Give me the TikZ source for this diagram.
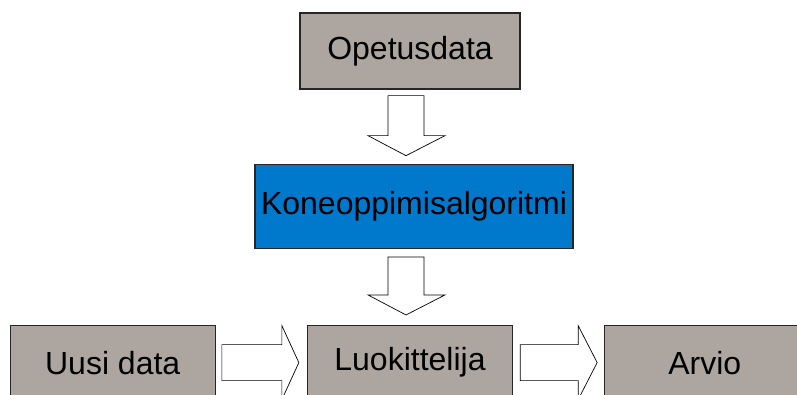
\documentclass[tikz,border=0pt]{standalone}
\usepackage{fontspec}
\setmainfont{Liberation Sans}
\usepackage{tikz}
\usetikzlibrary{calc}
\usetikzlibrary{arrows.meta, positioning}

\definecolor{boxgray}{RGB}{173,166,160}
\definecolor{algoblue}{RGB}{0,120,204}

\begin{document}
\begin{tikzpicture}[x=1pt, y=1pt]

	% Define block styles
	\tikzstyle{box} = [rectangle, draw=black!85, line width=1.3pt, fill=boxgray,
	inner sep=0pt, minimum width=205pt, minimum height=74pt,
	font=\fontsize{32pt}{38pt}\selectfont]
	\tikzstyle{algo} = [box, fill=algoblue, minimum width=318pt, minimum height=84pt]
	\tikzstyle{fat} = [draw=black, fill=white, line width=0.7pt, line join=miter]

	\useasboundingbox (0,0) rectangle (797,394);

	% Nodes
	\node [box, minimum width=220pt, minimum height=76pt] (opetus) at (410,343) {Opetusdata};
	\node [algo, below=74pt of opetus, xshift=4pt] (kone) {Koneoppimisalgoritmi};
	\node [box, below=76pt of kone, xshift=-4pt] (luok) {Luokittelija};
	\node [box, left=91pt of luok] (uusi) {Uusi data};
	\node [box, right=91pt of luok, minimum width=200pt] (arvio) {Arvio};

	% Paths
	\path [fat] ($(opetus.south)+(-22,-6)$) -- ++(36,0) -- ++(0,-40) -- ++(21,0)
		-- ($(kone.north)+(-8,8)$) -- ++(-38,20) -- ++(20,0) -- cycle;
	\path [fat] ($(kone.south)+(-26,-8)$) -- ++(36,0) -- ++(0,-38) -- ++(21,0)
		-- ($(luok.north)+(-4,10)$) -- ++(-38,20) -- ++(20,0) -- cycle;
	\path [fat] ($(uusi.east)+(6,18)$) -- ++(60,0) -- ++(0,19)
		-- ($(luok.west)+(-8,0)$) -- ++(-17,-37) -- ++(0,19) -- ++(-60,0) -- cycle;
	\path [fat] ($(luok.east)+(7,18)$) -- ++(58,0) -- ++(0,19)
		-- ($(arvio.west)+(-7,0)$) -- ++(-19,-37) -- ++(0,19) -- ++(-58,0) -- cycle;
\end{tikzpicture}
\end{document}
